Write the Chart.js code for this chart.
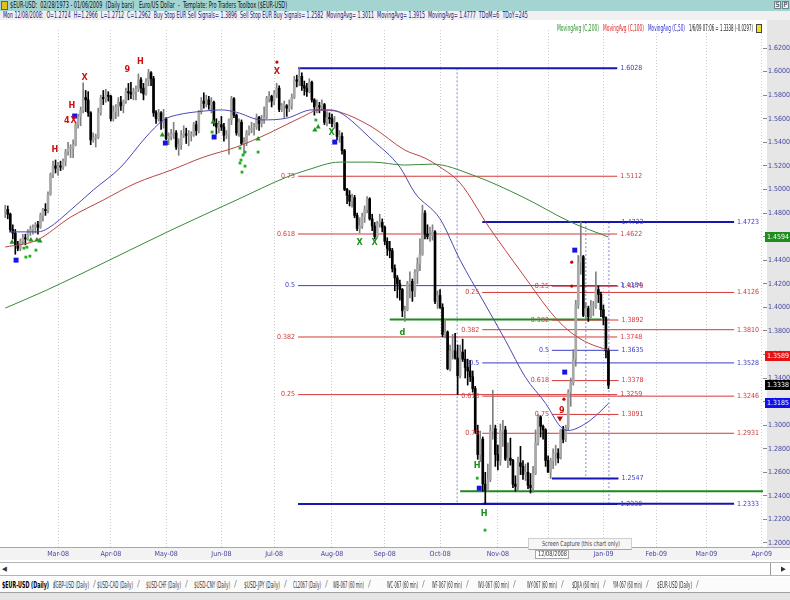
<!DOCTYPE html>
<html>
<head>
<meta charset="utf-8">
<script src="https://cdn.jsdelivr.net/npm/chart.js@4.4.1/dist/chart.umd.min.js"></script>
<style>
  body { margin: 0; width: 790px; height: 600px; position: relative; overflow: hidden; background: #fff;
         font-family: 'Liberation Sans Narrow', 'DejaVu Sans Condensed', 'DejaVu Sans', sans-serif; }
  .t { position: absolute; white-space: pre; line-height: 9px; transform-origin: 0 50%; z-index: 3; }
  .blk { position: absolute; }
  #titlebar { left: 0; top: 0; width: 790px; height: 11px; background: #a3d4d2; }
  #infobar { left: 0; top: 11px; width: 790px; height: 9px; background: #f0f0f0; }
  #chart { position: absolute; left: 0; top: 20px; }
  .btn { position: absolute; top: 1px; width: 7px; height: 8px; border: 1px solid #6a8a8a; background: #e8f2f2;
         font-size: 7px; line-height: 7px; text-align: center; box-sizing: border-box; color: #222; }
  #scroll { left: 0; top: 562px; width: 790px; height: 14px; background: #fff; border-top: 1px solid #b4b4b4;
            border-bottom: 1px solid #b4b4b4; box-sizing: border-box; }
  #tabs { left: 0; top: 577px; width: 790px; height: 16px; background: #fbfbfb; border-bottom: 1px solid #a0a0a0; box-sizing: border-box; }
  #foot { left: 0; top: 593px; width: 790px; height: 7px; background: #e4e4e4; }
</style>
</head>
<body>
<div class="blk" id="titlebar"></div>
<div class="blk" id="infobar"></div>
<div class="blk" style="left:1px;top:1px;width:7px;height:9px;background:#e0c020;border:1px solid #6a6a20;box-sizing:border-box;z-index:3"></div>
<span class="t" data-w="277" style="left:10px;top:1px;font-size:8px;color:#111">$EUR-USD:  02/28/1973 - 01/06/2009  (Daily bars)   Euro/US Dollar  -  Template: Pro Traders Toolbox ($EUR-USD)</span>
<div class="btn" style="left:774px">S</div><div class="btn" style="left:782px">P</div>
<span class="t" data-w="525" style="left:3px;top:11px;font-size:8px;color:#16167a">Mon 12/08/2008:  O=1.2724  H=1.2966  L=1.2712  C=1.2962  Buy Stop EUR Sell Signals= 1.3896  Sell Stop EUR Buy Signals= 1.2582  MovingAvg= 1.3011  MovingAvg= 1.3915  MovingAvg= 1.4777  TDoM=6  TDoY=245</span>

<canvas id="chart" width="790" height="540"></canvas>

<span class="t" data-w="42" style="left:557px;top:24px;font-size:8px;color:#2a902a">MovingAvg (C,200)</span>
<span class="t" data-w="41" style="left:603px;top:24px;font-size:8px;color:#e02020">MovingAvg (C,100)</span>
<span class="t" data-w="37" style="left:648px;top:24px;font-size:8px;color:#2a2ad0">MovingAvg (C,50)</span>
<span class="t" data-w="64" style="left:689px;top:24px;font-size:8px;color:#222">1/6/09 07:06 = 1.3338 (-0.0297)</span>
<div class="blk" style="left:756px;top:24px;width:6px;height:9px;background:#f2e020;border:1px solid #444;box-sizing:border-box;z-index:3"></div>

<div class="blk" style="left:528px;top:538px;width:104px;height:12px;background:#f6f6f6;border:1px solid #cfcfcf;border-bottom:1px solid #9aa6c8;box-sizing:border-box;z-index:3"></div>
<span class="t" data-w="78" style="left:542px;top:540px;font-size:7px;color:#444">Screen Capture (this chart only)</span>
<div class="blk" style="left:535px;top:550px;width:34px;height:9px;background:#fff;border:1px solid #a8a8a8;box-sizing:border-box;z-index:3"></div>
<span class="t" data-w="29" style="left:538px;top:550px;font-size:7px;color:#333">12/08/2008</span>

<div class="blk" id="scroll"></div>
<span class="t" style="left:2px;top:565px;font-size:7px;color:#333">&#9664;</span>
<div class="blk" style="left:770px;top:563px;width:1px;height:12px;background:#999"></div>
<span class="t" style="left:781px;top:565px;font-size:7px;color:#333">&#9654;</span>
<div class="blk" id="tabs"></div>
<div class="blk" id="foot"></div>

<script>
// EUR/USD daily bars, Feb 1 2008 .. Jan 6 2009 (one entry per trading day)
const opens = [
  1.4810,1.4830,1.4790,1.4660,1.4630,1.4530,1.4500,1.4560,1.4590,1.4580,1.4640,1.4660,1.4680,1.4700,1.4680,1.4780,1.4830,1.4820,1.4960,1.5130,1.5200,
  1.5180,1.5200,1.5190,1.5240,1.5320,1.5350,1.5350,1.5380,1.5550,1.5620,1.5670,1.5780,1.5760,1.5650,1.5420,1.5440,1.5440,1.5650,1.5780,1.5770,1.5800,
  1.5790,1.5600,1.5660,1.5700,1.5740,1.5710,1.5750,1.5830,1.5820,1.5810,1.5830,1.5850,1.5930,1.5860,1.5810,1.5920,1.5990,1.5940,1.5650,1.5600,1.5650,1.5570,
  1.5600,1.5430,1.5450,1.5470,1.5480,1.5360,1.5380,1.5460,1.5470,1.5460,1.5460,1.5460,1.5550,1.5500,1.5660,1.5750,1.5730,1.5760,1.5720,1.5740,1.5560,1.5530,
  1.5550,1.5530,1.5460,1.5460,1.5590,1.5770,1.5630,1.5480,1.5570,1.5390,1.5390,1.5480,1.5510,1.5520,1.5530,1.5610,1.5560,1.5590,1.5610,1.5770,1.5790,
  1.5750,1.5810,1.5860,1.5680,1.5710,1.5710,1.5690,1.5710,1.5780,1.5930,1.5920,1.5960,1.5880,1.5860,1.5830,1.5910,1.5760,1.5700,1.5710,1.5700,1.5720,1.5570,1.5610,
  1.5600,1.5560,1.5560,1.5450,1.5450,1.5330,1.5000,1.4950,1.4900,1.4930,1.4780,1.4670,1.4690,1.4770,1.4830,1.4920,1.4750,1.4690,1.4600,1.4710,1.4720,
  1.4680,1.4560,1.4500,1.4480,1.4330,1.4250,1.4200,1.4150,1.3970,1.3980,1.4200,1.4220,1.4140,1.4300,1.4370,1.4450,1.4800,1.4620,1.4600,1.4610,1.4640,1.4050,
  1.4100,1.4000,1.3770,1.3790,1.3480,1.3630,1.3630,1.3570,1.3420,1.3620,1.3560,1.3490,1.3460,1.3410,1.3310,1.2950,1.2750,1.2880,1.2500,1.2450,1.2540,1.2950,1.2970,
  1.2750,1.2700,1.2950,1.2960,1.2710,1.2720,1.2700,1.2500,1.2480,1.2680,1.2650,1.2580,1.2600,1.2490,1.2470,1.2590,1.2850,1.3070,1.2990,1.2960,
  1.2700,1.2600,1.2700,1.2760,1.2760,1.2724,1.2962,1.2880,1.2980,1.3280,1.3360,1.3560,1.4020,1.4380,1.4430,1.3930,1.3990,1.3920,1.4010,1.4010,1.4150,1.4110,
  1.3980,1.3910,1.3630
];
const highs = [
  1.4865,1.4860,1.4800,1.4700,1.4660,1.4560,1.4580,1.4620,1.4620,1.4660,1.4690,1.4700,1.4720,1.4730,1.4800,1.4840,1.4880,1.4980,1.5140,1.5240,1.5250,
  1.5230,1.5240,1.5260,1.5340,1.5400,1.5380,1.5420,1.5570,1.5640,1.5700,1.5905,1.5840,1.5830,1.5660,1.5480,1.5470,1.5690,1.5800,1.5840,1.5850,1.5830,
  1.5800,1.5710,1.5720,1.5780,1.5790,1.5760,1.5860,1.5900,1.5910,1.5860,1.5880,1.5980,1.5950,1.5900,1.5940,1.6019,1.6000,1.5960,1.5670,1.5680,1.5660,1.5680,
  1.5610,1.5480,1.5510,1.5570,1.5500,1.5430,1.5500,1.5540,1.5520,1.5500,1.5490,1.5570,1.5580,1.5670,1.5780,1.5820,1.5800,1.5790,1.5780,1.5750,1.5600,1.5580,
  1.5620,1.5560,1.5500,1.5600,1.5790,1.5780,1.5640,1.5600,1.5590,1.5440,1.5500,1.5540,1.5570,1.5560,1.5640,1.5620,1.5630,1.5700,1.5790,1.5830,1.5800,
  1.5840,1.5900,1.5880,1.5730,1.5750,1.5720,1.5760,1.5810,1.5960,1.5970,1.6038,1.5990,1.5920,1.5900,1.5940,1.5920,1.5770,1.5760,1.5740,1.5760,1.5730,1.5660,1.5650,
  1.5640,1.5620,1.5570,1.5500,1.5480,1.5340,1.5010,1.4990,1.4960,1.4950,1.4800,1.4760,1.4800,1.4860,1.4940,1.4930,1.4790,1.4720,1.4730,1.4790,1.4750,
  1.4690,1.4590,1.4560,1.4500,1.4360,1.4270,1.4230,1.4160,1.4010,1.4220,1.4300,1.4240,1.4320,1.4420,1.4580,1.4867,1.4820,1.4700,1.4680,1.4700,1.4650,1.4140,
  1.4150,1.4030,1.3900,1.3800,1.3680,1.3770,1.3780,1.3680,1.3680,1.3730,1.3640,1.3560,1.3550,1.3460,1.3330,1.3000,1.2950,1.2900,1.2600,1.2670,1.3000,1.3296,1.3000,
  1.2830,1.3010,1.3040,1.2990,1.2850,1.2890,1.2710,1.2570,1.2730,1.2820,1.2700,1.2670,1.2680,1.2590,1.2650,1.2960,1.3090,1.3080,1.3000,1.2970,
  1.2740,1.2720,1.2800,1.2830,1.2800,1.2966,1.2990,1.3000,1.3300,1.3400,1.3640,1.4060,1.4440,1.4723,1.4440,1.4040,1.4010,1.4060,1.4050,1.4300,1.4180,1.4130,
  1.4020,1.3920,1.3650
];
const lows = [
  1.4760,1.4750,1.4640,1.4580,1.4450,1.4480,1.4480,1.4540,1.4530,1.4570,1.4610,1.4620,1.4630,1.4620,1.4670,1.4730,1.4780,1.4800,1.4950,1.5100,1.5140,
  1.5120,1.5160,1.5170,1.5200,1.5290,1.5270,1.5270,1.5370,1.5520,1.5540,1.5650,1.5660,1.5620,1.5380,1.5400,1.5360,1.5430,1.5630,1.5720,1.5740,1.5750,
  1.5580,1.5580,1.5600,1.5620,1.5670,1.5650,1.5730,1.5760,1.5770,1.5760,1.5760,1.5830,1.5820,1.5760,1.5800,1.5880,1.5880,1.5620,1.5560,1.5580,1.5510,1.5520,
  1.5420,1.5380,1.5420,1.5430,1.5340,1.5290,1.5340,1.5440,1.5390,1.5370,1.5410,1.5450,1.5460,1.5480,1.5640,1.5690,1.5700,1.5680,1.5650,1.5540,1.5470,1.5480,
  1.5500,1.5410,1.5430,1.5300,1.5550,1.5610,1.5460,1.5450,1.5380,1.5300,1.5370,1.5460,1.5480,1.5460,1.5510,1.5500,1.5530,1.5560,1.5600,1.5740,1.5700,
  1.5720,1.5780,1.5660,1.5660,1.5610,1.5620,1.5660,1.5680,1.5770,1.5870,1.5880,1.5840,1.5800,1.5790,1.5820,1.5740,1.5630,1.5650,1.5650,1.5670,1.5550,1.5540,1.5560,
  1.5530,1.5520,1.5420,1.5400,1.5300,1.4990,1.4880,1.4860,1.4850,1.4760,1.4650,1.4630,1.4670,1.4720,1.4800,1.4740,1.4650,1.4580,1.4590,1.4680,1.4640,
  1.4530,1.4440,1.4420,1.4300,1.4140,1.4080,1.4060,1.3920,1.3880,1.3970,1.4080,1.4050,1.4090,1.4200,1.4310,1.4440,1.4580,1.4580,1.4560,1.4570,1.4030,1.3990,
  1.3990,1.3750,1.3740,1.3470,1.3460,1.3560,1.3560,1.3260,1.3400,1.3540,1.3400,1.3340,1.3370,1.3280,1.2930,1.2710,1.2690,1.2440,1.2330,1.2440,1.2520,1.2880,1.2650,
  1.2620,1.2660,1.2820,1.2700,1.2640,1.2660,1.2470,1.2440,1.2440,1.2580,1.2540,1.2530,1.2460,1.2424,1.2430,1.2580,1.2830,1.2900,1.2880,1.2650,
  1.2600,1.2547,1.2630,1.2660,1.2680,1.2712,1.2850,1.2860,1.2960,1.3160,1.3340,1.3500,1.3990,1.4280,1.3920,1.3900,1.3880,1.3910,1.3930,1.3990,1.4040,1.3920,
  1.3850,1.3570,1.3310
];
const closes = [
  1.4830,1.4790,1.4660,1.4630,1.4530,1.4500,1.4560,1.4590,1.4580,1.4640,1.4660,1.4680,1.4700,1.4680,1.4780,1.4830,1.4820,1.4960,1.5130,1.5200,1.5180,
  1.5200,1.5190,1.5240,1.5320,1.5350,1.5350,1.5380,1.5550,1.5620,1.5670,1.5780,1.5760,1.5650,1.5420,1.5440,1.5440,1.5650,1.5780,1.5770,1.5800,1.5790,
  1.5600,1.5660,1.5700,1.5740,1.5710,1.5750,1.5830,1.5820,1.5810,1.5830,1.5850,1.5930,1.5860,1.5810,1.5920,1.5990,1.5940,1.5650,1.5600,1.5650,1.5570,1.5600,
  1.5430,1.5450,1.5470,1.5480,1.5360,1.5380,1.5460,1.5470,1.5460,1.5460,1.5460,1.5550,1.5500,1.5660,1.5750,1.5730,1.5760,1.5720,1.5740,1.5560,1.5530,1.5550,
  1.5530,1.5460,1.5460,1.5590,1.5770,1.5630,1.5480,1.5570,1.5390,1.5390,1.5480,1.5510,1.5520,1.5530,1.5610,1.5560,1.5590,1.5610,1.5770,1.5790,1.5750,
  1.5810,1.5860,1.5680,1.5710,1.5710,1.5690,1.5710,1.5780,1.5930,1.5920,1.5960,1.5880,1.5860,1.5830,1.5910,1.5760,1.5700,1.5710,1.5700,1.5720,1.5570,1.5610,1.5600,
  1.5560,1.5560,1.5450,1.5450,1.5330,1.5000,1.4950,1.4900,1.4930,1.4780,1.4670,1.4690,1.4770,1.4830,1.4920,1.4750,1.4690,1.4600,1.4710,1.4720,1.4680,
  1.4560,1.4500,1.4480,1.4330,1.4250,1.4200,1.4150,1.3970,1.3980,1.4200,1.4220,1.4140,1.4300,1.4370,1.4450,1.4800,1.4620,1.4600,1.4610,1.4640,1.4050,1.4100,
  1.4000,1.3770,1.3790,1.3480,1.3630,1.3630,1.3570,1.3420,1.3620,1.3560,1.3490,1.3460,1.3410,1.3310,1.2950,1.2750,1.2880,1.2500,1.2450,1.2540,1.2950,1.2970,1.2750,
  1.2700,1.2950,1.2960,1.2710,1.2720,1.2700,1.2500,1.2480,1.2680,1.2650,1.2580,1.2600,1.2490,1.2470,1.2590,1.2850,1.3070,1.2990,1.2960,1.2700,
  1.2600,1.2700,1.2760,1.2760,1.2720,1.2962,1.2880,1.2980,1.3280,1.3360,1.3560,1.4020,1.4380,1.4430,1.3930,1.3990,1.3920,1.4010,1.4010,1.4150,1.4110,1.3980,
  1.3910,1.3630,1.3338
];

// month starts (bar index) and their labels
const monthTicks = [21, 42, 64, 86, 107, 130, 151, 173, 196, 216, 238, 259, 279, 301];
const monthLabels = ['Mar-08','Apr-08','May-08','Jun-08','Jul-08','Aug-08','Sep-08','Oct-08','Nov-08','Dec-08','Jan-09','Feb-09','Mar-09','Apr-09'];
const priceTicks = [1.20,1.22,1.24,1.26,1.28,1.30,1.32,1.34,1.36,1.38,1.40,1.42,1.44,1.46,1.48,1.50,1.52,1.54,1.56,1.58,1.60,1.62];

// moving averages: [bar index, value]
const ma200 = [[0,1.3993],[16.5,1.4146],[39,1.4375],[66,1.4655],[92,1.4910],[112,1.5105],[120,1.5164],[133,1.5232],[146,1.5232],[159,1.5207],[170,1.5215],[186,1.5122],[206,1.4935],[225,1.4723],[240,1.4596]];
const ma100 = [[0,1.4511],[12.6,1.4570],[26,1.4765],[39,1.4910],[52,1.5054],[66,1.5164],[79,1.5275],[92,1.5360],[105,1.5478],[118,1.5614],[125,1.5674],[133,1.5657],[146,1.5529],[159,1.5334],[167,1.5266],[173,1.5190],[181,1.5054],[192.5,1.4680],[205.6,1.4290],[218.7,1.3916],[225.4,1.3781],[232,1.3696],[240,1.3636]];
const ma50 = [[1.5,1.4640],[13,1.4640],[17,1.4670],[26,1.4825],[35,1.4995],[46,1.5190],[56,1.5445],[63,1.5590],[68,1.5630],[79,1.5665],[86,1.5675],[92,1.5655],[102,1.5590],[112,1.5605],[122,1.5675],[129,1.5675],[133,1.5655],[146,1.5420],[157,1.5190],[163,1.4970],[173,1.4750],[181,1.4400],[190,1.4060],[199,1.3720],[207,1.3405],[215,1.3185],[221,1.2985],[224,1.2955],[231,1.3015],[236,1.3100],[240,1.3185]];

// retracement grids: [ratio, price] and the bar span they cover
const fibJul = [['',1.6028],['0.75',1.5112],['0.618',1.4622],['0.5',1.4184],['0.382',1.3748],['0.25',1.3259],['',1.2330]];
const fibJulSpan = [116.5, 243.5];
const fibOct = [['',1.4723],['0.25',1.4126],['0.382',1.3810],['0.5',1.3528],['0.618',1.3246],['0.75',1.2931],['',1.2333]];
const fibOctSpan = [189.8, 290];
const fibDec = [['',1.4723],['0.25',1.4179],['0.382',1.3892],['0.5',1.3635],['0.618',1.3378],['0.75',1.3091],['',1.2547]];
const fibDecSpan = [217.5, 244];

// stop lines [from bar, to bar, price] and cycle markers [bar, top, bottom]
const stopLines = [[153, 237.3, 1.3896], [181, 301.5, 1.2440]];
const cycleLines = [[179.8, 1.6028, 1.2330], [231, 1.4723, 1.2547], [240.2, 1.4723, 1.2330]];

// signal markers [bar, price]
const blueSquares = [[4.3,1.4400],[27.6,1.5623],[63.7,1.5394],[83.1,1.5445],[131.1,1.5402],[188.6,1.2465],[222.6,1.3450],[226.6,1.4485]];
const greenTriangles = [[2.7,1.4553],[10.2,1.4570],[12.6,1.4570],[13.8,1.4562],[62.5,1.5461],[82.7,1.5572],[100.6,1.5428],[123.2,1.5504],[124.5,1.5530]];
const greenDots = [[7.4,1.4502],[8.6,1.4510],[12.2,1.4485],[8.2,1.4426],[9.8,1.4434],[93.4,1.5351],[94.6,1.5292],[95.4,1.5317],[93.8,1.5249],[93.4,1.5224],[95.4,1.5198],[94.2,1.5147],[100.6,1.5317],[82.3,1.5487],[123.6,1.5589],[187.8,1.2550],[190.9,1.2109]];
const redDots = [[108.1,1.6081],[222.3,1.3220],[225.4,1.4383],[225.4,1.4180]];
const redArrows = [[220.7,1.3059]];
const redMarks = [[19.7,1.5334,'H'],[26.5,1.5708,'H'],[24.5,1.5580,'4'],[27.2,1.5580,'X'],[31.6,1.5945,'X'],[48.6,1.6013,'9'],[53.8,1.6081,'H'],[108.1,1.5996,'X'],[221.5,1.3127,'9']];
const greenMarks = [[129.9,1.5478,'X'],[141,1.4545,'X'],[147,1.4545,'X'],[158,1.3781,'d'],[187.8,1.2660,'H'],[190.5,1.2253,'H']];

// last values shown in the boxes on the price axis: MA200, MA100, close, MA50
const lastValues = [1.4594, 1.3589, 1.3338, 1.3185];

const tabs = [
  [2,47,'$EUR-USD (Daily)'],[53,36,'$GBP-USD (Daily)'],[97,36,'$USD-CAD (Daily)'],[146,35,'$USD-CHF (Daily)'],
  [194,36,'$USD-CNY (Daily)'],[244,36,'$USD-JPY (Daily)'],[293,28,'CL2067 (Daily)'],[333,31,'WB-067 (60 min)'],
  [387,31,'WC-067 (60 min)'],[432,30,'WF-067 (60 min)'],[478,31,'WU-067 (60 min)'],[527,30,'WY-067 (60 min)'],
  [572,27,'$DJIA (60 min)'],[613,29,'YM-067 (60 min)'],[657,35,'$EUR-USD (Daily)']
];

const FONT = "'Liberation Sans Narrow','DejaVu Sans Condensed','DejaVu Sans',sans-serif";
const RED = '#d43838', BLUE = '#3c3cc8', DKBLUE = '#1616b0';
const boxColors = ['#1e8c1e', '#e81010', '#000000', '#1010e8'];

// tabs row
tabs.forEach(([left, w, label], i) => {
  const s = document.createElement('span');
  s.className = 't';
  s.textContent = label;
  s.dataset.w = w;
  s.style.cssText = 'left:' + left + 'px;top:581px;font-size:8px;color:' + (i === 0 ? '#000' : '#333') + (i === 0 ? ';font-weight:bold' : '');
  document.body.appendChild(s);
  const sep = document.createElement('span');
  sep.className = 't';
  sep.textContent = '/';
  sep.style.cssText = 'left:' + (left + w + 4) + 'px;top:580px;font-size:9px;color:#888';
  document.body.appendChild(sep);
});
document.querySelectorAll('[data-w]').forEach(el => {
  const k = (+el.dataset.w) / el.getBoundingClientRect().width;
  el.style.transform = 'scaleX(' + k.toFixed(3) + ')';
});

const pts = arr => arr.map(p => ({x: p[0], y: p[1]}));

const wickData = [], bodyData = [], wickColors = [], bodyColors = [];
for (let i = 0; i < closes.length; i++) {
  wickData.push({x: i, y: [lows[i], highs[i]]});
  bodyData.push({x: i, y: [opens[i], closes[i]]});
  const up = closes[i] >= opens[i];
  wickColors.push(up ? '#808080' : '#000000');
  bodyColors.push(up ? '#a8a8a8' : '#000000');
}

const datasets = [
  {type: 'scatter', data: pts(blueSquares), pointStyle: 'rect', pointRadius: 3.5, backgroundColor: '#1414e6', borderWidth: 0, order: 0},
  {type: 'scatter', data: pts(greenTriangles), pointStyle: 'triangle', pointRadius: 3, backgroundColor: '#1c961c', borderWidth: 0, order: 0},
  {type: 'scatter', data: pts(greenDots), pointStyle: 'rect', pointRadius: 2, backgroundColor: '#22b022', borderWidth: 0, order: 0},
  {type: 'scatter', data: pts(redDots), pointRadius: 1.6, backgroundColor: '#c80000', borderWidth: 0, order: 0},
  {type: 'scatter', data: pts(redArrows), pointStyle: 'triangle', rotation: 180, pointRadius: 3.5, backgroundColor: '#c80000', borderWidth: 0, order: 0},
  {type: 'line', data: pts(ma50), borderColor: '#4a4ab4', borderWidth: 1, pointRadius: 0, cubicInterpolationMode: 'monotone', order: 1},
  {type: 'line', data: pts(ma100), borderColor: '#bc4444', borderWidth: 1, pointRadius: 0, cubicInterpolationMode: 'monotone', order: 1},
  {type: 'line', data: pts(ma200), borderColor: '#3a8a3a', borderWidth: 1, pointRadius: 0, cubicInterpolationMode: 'monotone', order: 1},
  {type: 'bar', data: bodyData, barThickness: 2, minBarLength: 1, grouped: false, backgroundColor: bodyColors, borderWidth: 0, order: 2},
  {type: 'bar', data: wickData, barThickness: 1, grouped: false, backgroundColor: wickColors, borderWidth: 0, order: 3}
];

const fibGrids = [[fibJul, fibJulSpan], [fibOct, fibOctSpan], [fibDec, fibDecSpan]];
fibGrids.forEach(([levels, span]) => {
  levels.forEach(([r, p]) => {
    datasets.push({
      type: 'line', data: [{x: span[0], y: p}, {x: span[1], y: p}],
      borderColor: r === '' ? DKBLUE : (r === '0.5' ? BLUE : RED),
      borderWidth: r === '' ? 2 : 1, pointRadius: 0, order: 4
    });
  });
});
stopLines.forEach(([a, b, p]) => {
  datasets.push({type: 'line', data: [{x: a, y: p}, {x: b, y: p}], borderColor: '#1e8a1e', borderWidth: 2, pointRadius: 0, order: 4});
});
cycleLines.forEach(([x, top, bottom]) => {
  datasets.push({type: 'line', data: [{x: x, y: top}, {x: x, y: bottom}], borderColor: '#8484d4', borderWidth: 1, borderDash: [2, 2], pointRadius: 0, order: 5});
});

const overlay = {
  id: 'overlay',
  beforeDraw(chart) {
    const {ctx, chartArea: a} = chart;
    ctx.save();
    ctx.fillStyle = '#ffffff';
    ctx.fillRect(0, 0, chart.width, chart.height);
    ctx.fillStyle = '#e6e6e6';
    ctx.fillRect(a.right + 4, 0, chart.width - a.right - 4, a.bottom);
    ctx.fillStyle = '#f3f3f3';
    ctx.fillRect(0, a.bottom, chart.width, chart.height - a.bottom);
    ctx.strokeStyle = '#a8a8a8';
    ctx.lineWidth = 1;
    ctx.beginPath();
    ctx.moveTo(0, a.bottom + 0.5);
    ctx.lineTo(chart.width, a.bottom + 0.5);
    ctx.stroke();
    ctx.restore();
  },
  afterDraw(chart) {
    const {ctx, chartArea: a} = chart;
    const xs = chart.scales.x, ys = chart.scales.y;
    ctx.save();
    ctx.font = '7px ' + FONT;
    ctx.textBaseline = 'middle';
    fibGrids.forEach(([levels, span]) => {
      const x0 = xs.getPixelForValue(span[0]), x1 = xs.getPixelForValue(span[1]);
      levels.forEach(([r, p]) => {
        const y = ys.getPixelForValue(p);
        ctx.fillStyle = (r === '' || r === '0.5') ? BLUE : RED;
        if (r) {
          ctx.textAlign = 'right';
          ctx.fillText(r, x0 - 3, y);
        }
        ctx.textAlign = 'left';
        ctx.fillText(p.toFixed(4), x1 + 3, y);
      });
    });

    ctx.font = 'bold 9px ' + FONT;
    ctx.textAlign = 'center';
    redMarks.forEach(([x, p, s]) => {
      ctx.fillStyle = '#d01010';
      ctx.fillText(s, xs.getPixelForValue(x), ys.getPixelForValue(p));
    });
    greenMarks.forEach(([x, p, s]) => {
      ctx.fillStyle = '#18901c';
      ctx.fillText(s, xs.getPixelForValue(x), ys.getPixelForValue(p));
    });

    ctx.font = '7px ' + FONT;
    ctx.textAlign = 'left';
    lastValues.forEach((v, i) => {
      const y = Math.round(ys.getPixelForValue(v));
      ctx.fillStyle = boxColors[i];
      ctx.fillRect(a.right + 2, y - 5, chart.width - a.right - 2, 10);
      ctx.fillStyle = '#ffffff';
      ctx.fillText(v.toFixed(4), a.right + 4, y);
    });
    ctx.restore();
  }
};

new Chart(document.getElementById('chart').getContext('2d'), {
  type: 'bar',
  data: {datasets: datasets},
  options: {
    responsive: false,
    maintainAspectRatio: false,
    devicePixelRatio: 1,
    animation: false,
    events: [],
    layout: {padding: {top: 10, left: 0, right: 0, bottom: 0}},
    plugins: {legend: {display: false}, tooltip: {enabled: false}},
    scales: {
      x: {
        type: 'linear',
        min: -0.5,
        max: 301.5,
        offset: false,
        grid: {offset: false, color: '#cdcdcd', lineWidth: 1, drawTicks: false},
        border: {display: false, dash: [1, 2]},
        afterBuildTicks: s => { s.ticks = monthTicks.map(v => ({value: v})); },
        afterFit: s => { s.height = 13; },
        ticks: {
          autoSkip: false, maxRotation: 0, padding: 3,
          color: '#4646a0', font: {size: 7, family: FONT},
          callback: v => monthLabels[monthTicks.indexOf(v)]
        }
      },
      y: {
        type: 'linear',
        position: 'right',
        min: 1.1966,
        max: 1.6353,
        grid: {drawOnChartArea: false, drawTicks: true, tickLength: 4, tickColor: '#8a8a8a'},
        border: {display: false},
        afterBuildTicks: s => { s.ticks = priceTicks.map(v => ({value: v})); },
        afterFit: s => { s.width = 27; },
        ticks: {
          padding: 1, color: '#4646a0', font: {size: 7, family: FONT},
          callback: v => v.toFixed(4)
        }
      }
    }
  },
  plugins: [overlay]
});
</script>
</body>
</html>
